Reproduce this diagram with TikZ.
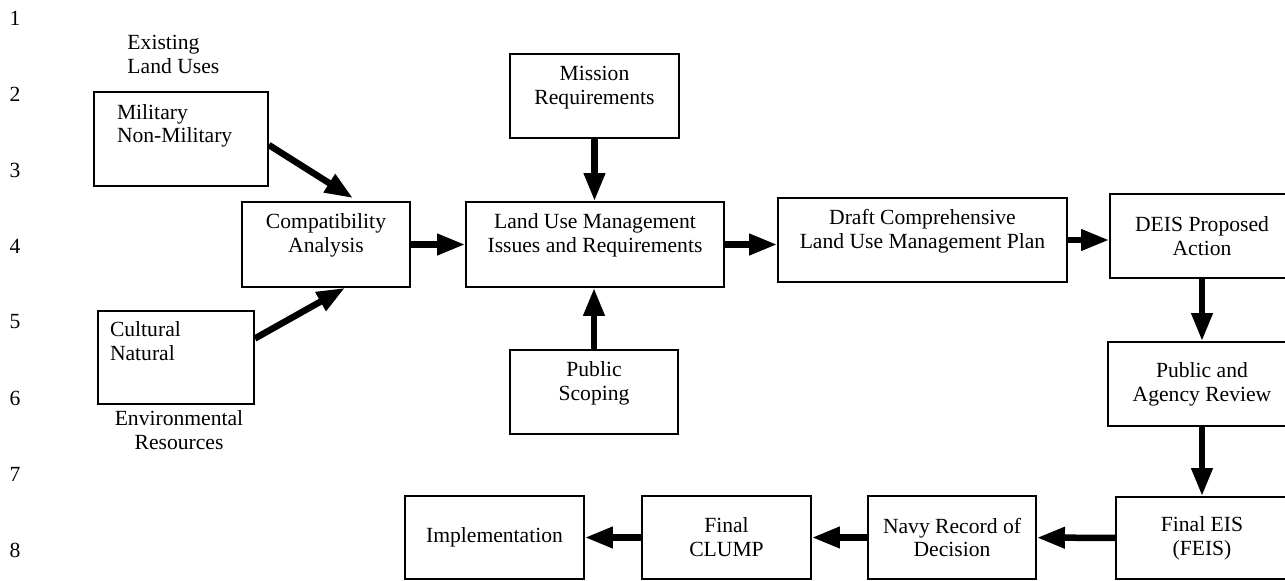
\documentclass[tikz,border=0pt]{standalone}
\usepackage{fontspec}
\setmainfont{Liberation Serif}
\usetikzlibrary{positioning,calc,arrows.meta}

\begin{document}
\begin{tikzpicture}[x=0.02cm,y=-0.02cm,
  every node/.style={font=\fontsize{12.3pt}{13.6pt}\selectfont},
  box/.style={draw,line width=1pt,align=center,inner sep=0pt},
  upper/.style={text height=22.6pt,text depth=13.4pt},
  flow/.style={line width=3.7pt,-{Triangle[length=16pt,width=11.5pt]}}]

\useasboundingbox (0,0) rectangle (1285,581);
\clip (0,0) rectangle (1285,581);

\coordinate (pmil) at ( 181.0,139.0);
\coordinate (pcul) at ( 176.0,357.5);
\coordinate (pcom) at ( 326.0,244.5);
\coordinate (plum) at ( 595.0,244.5);
\coordinate (pmis) at ( 594.5, 96.0);
\coordinate (psco) at ( 594.0,392.0);
\coordinate (pdra) at ( 922.5,240.0);
\coordinate (pdei) at (1202.0,236.0);
\coordinate (prev) at (1202.0,384.0);
\coordinate (pfei) at (1202.0,538.0);
\coordinate (pnav) at ( 952.0,537.5);
\coordinate (pclu) at ( 726.5,537.5);
\coordinate (pimp) at ( 494.5,537.5);

\foreach \n in {1,...,8}{\node (row\n) at (15,{18+(\n-1)*76}) {\n};}

\node[box,align=left,text width=2.56cm,inner xsep=0.46cm,minimum height=1.88cm,
   text height=9pt,text depth=31.7pt] (mil) at (pmil) {Military\\Non-Military};
\node[box,align=left,text width=2.64cm,inner xsep=0.24cm,minimum height=1.86cm,
   text height=9pt,text depth=33.3pt] (cul) at (pcul) {Cultural\\Natural};
\node[anchor=west,align=left,inner sep=0pt] (landuses) at ($(mil.north west)+(34,-37)$) {Existing\\Land Uses};
\node[align=center,inner sep=0pt] (envres) at ($(cul.south)+(3,25)$) {Environmental\\Resources};

\node[box,upper,minimum width=3.36cm,minimum height=1.70cm] (com) at (pcom) {Compatibility\\Analysis};
\node[box,upper,minimum width=5.16cm,minimum height=1.70cm] (lum) at (plum) {Land Use Management\\Issues and Requirements};
\node[box,upper,minimum width=3.38cm,minimum height=1.68cm] (mis) at (pmis) {Mission\\Requirements};
\node[box,upper,minimum width=3.36cm,minimum height=1.68cm] (sco) at (psco) {Public\\Scoping};
\node[box,upper,minimum width=5.78cm,minimum height=1.68cm] (dra) at (pdra) {Draft Comprehensive\\Land Use Management Plan};
\node[box,minimum width=3.68cm,minimum height=1.68cm] (dei) at (pdei) {DEIS Proposed\\Action};
\node[box,minimum width=3.76cm,minimum height=1.68cm] (rev) at (prev) {Public and\\Agency Review};
\node[box,minimum width=3.44cm,minimum height=1.64cm] (fei) at (pfei) {Final EIS\\(FEIS)};
\node[box,minimum width=3.36cm,minimum height=1.66cm] (nav) at (pnav) {Navy Record of\\Decision};
\node[box,minimum width=3.38cm,minimum height=1.66cm] (clu) at (pclu) {Final\\CLUMP};
\node[box,minimum width=3.58cm,minimum height=1.66cm] (imp) at (pimp) {Implementation};

\draw[flow] ($(mil.east)+(0,6)$) -- ($(com.north)+(27,-3)$);
\draw[flow] ($(cul.east)+(0,-19)$) -- ($(com.south)+(19,0)$);
\draw[flow] (com) -- (lum);
\draw[flow] (mis.south) -- (mis.south |- lum.north);
\draw[flow] (sco.north) -- (sco.north |- lum.south);
\draw[flow] (lum.east) -- (lum.east -| dra.west);
\draw[flow] (dra.east) -- (dra.east -| dei.west);
\draw[flow] (dei) -- (rev);
\draw[flow] (rev) -- (fei);
\draw[flow] (fei) -- (nav);
\draw[flow] (nav) -- (clu);
\draw[flow] (clu) -- (imp);

\end{tikzpicture}
\end{document}
